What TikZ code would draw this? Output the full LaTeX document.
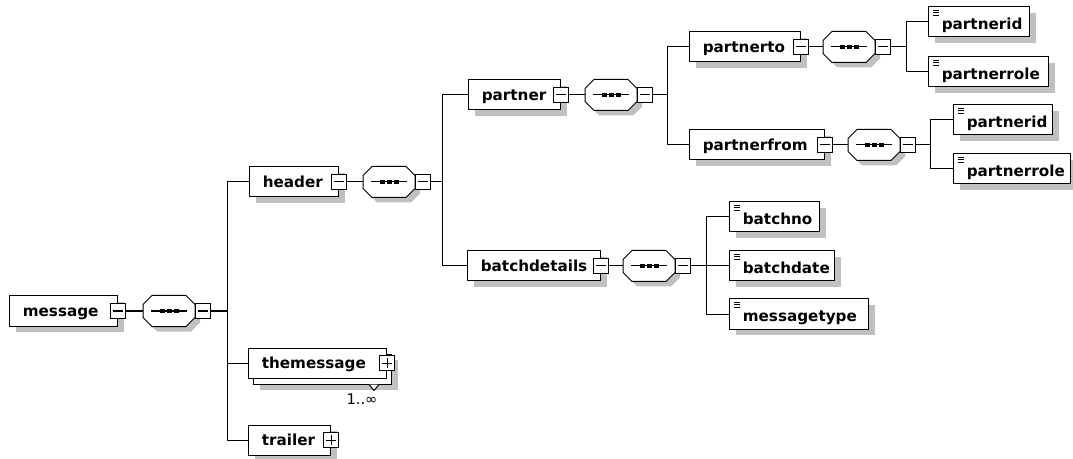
\documentclass[tikz,border=0pt]{standalone}
\usepackage{fontspec}
\setmainfont{DejaVu Sans}
\usetikzlibrary{shadows}

\definecolor{shadowgray}{RGB}{192,192,192}

\tikzset{
  conn/.style={line width=0.75pt},
  elembase/.style={draw, fill=white, rectangle, line width=0.75pt,
    inner xsep=0pt, inner ysep=0pt, minimum height=22.5pt, align=left,
    font=\bfseries\fontsize{11.4pt}{13pt}\selectfont,
    text height=10pt, text depth=2.2pt},
  elem/.style={elembase,
    drop shadow={shadow xshift=4.5pt, shadow yshift=-4.5pt, fill=shadowgray, opacity=1}},
  leaf/.style={elem, text height=11.5pt, text depth=0.9pt,
    path picture={
      \foreach \k in {2.25,4.1,6}{
        \draw[line width=0.6pt] ([xshift=3pt,yshift=-\k pt]path picture bounding box.north west) -- ++(5pt,0);
      }}},
  btn/.style={draw, fill=white, rectangle, line width=0.75pt,
    minimum size=11.25pt, inner sep=0pt},
  minusbtn/.style={btn,
    path picture={\draw[line width=0.75pt]
      ([xshift=2pt]path picture bounding box.west) -- ([xshift=-2pt]path picture bounding box.east);}},
  plusbtn/.style={btn,
    path picture={\draw[line width=0.75pt]
      ([xshift=2pt]path picture bounding box.west) -- ([xshift=-2pt]path picture bounding box.east)
      ([yshift=2pt]path picture bounding box.south) -- ([yshift=-2pt]path picture bounding box.north);}},
  seqarea/.style={rectangle, inner sep=0pt, minimum width=39pt, minimum height=23.25pt},
  occurs/.style={font=\fontsize{11pt}{13pt}\selectfont, inner sep=0pt}
}

% element box: name, style, left x, right x, centre y, label
\newcommand\elembox[6]{%
  \pgfmathsetlengthmacro\elw{(#4-#3)*0.75pt}%
  \node[#2, text width=\elw, anchor=west] (#1) at (#3,#5) {\hspace*{10pt}\mbox{#6}};%
}

% sequence compositor: name, centre x, centre y
\newcommand\seqgroup[3]{%
  \fill[shadowgray] (#2-12,#3-10.5) -- (#2+22,#3-10.5) -- (#2+31,#3-1.5) -- (#2+31,#3+11.5)
    -- (#2+22,#3+20.5) -- (#2-12,#3+20.5) -- (#2-21,#3+11.5) -- (#2-21,#3-1.5) -- cycle;
  \draw[conn, fill=white] (#2-17,#3-15.5) -- (#2+17,#3-15.5) -- (#2+26,#3-6.5) -- (#2+26,#3+6.5)
    -- (#2+17,#3+15.5) -- (#2-17,#3+15.5) -- (#2-26,#3+6.5) -- (#2-26,#3-6.5) -- cycle;
  \node[seqarea] (#1) at (#2,#3) {};
  \draw[conn] (#2-18,#3) -- (#2+18,#3);
  \foreach \dx in {-7,0,7}{\fill (#2+\dx-2.5,#3-2) rectangle (#2+\dx+2.5,#3+2);}
  \node[minusbtn, anchor=west] (#1-b) at (#1.east) {};
}

\begin{document}
\begin{tikzpicture}[x=0.75pt, y=-0.75pt]
\useasboundingbox (0,0) rectangle (1073,459);

% ---- root ----
\elembox{message}{elem}{9}{117}{311}{message}
\node[minusbtn] (message-b) at (message.east) {};
\seqgroup{s1}{169}{311}

% ---- children of message ----
\elembox{header}{elem}{249}{338}{182}{header}
\node[minusbtn] (header-b) at (header.east) {};

\elembox{themessage-back}{elem}{253}{391}{369}{}
\elembox{themessage}{elembase}{248}{386}{363}{themessage}
\node[plusbtn] (themessage-b) at (themessage.east) {};
\draw[conn, fill=white] ([xshift=-17.25pt]themessage-back.south east) -- ++(3.75pt,-4.5pt) -- ++(3.75pt,4.5pt);
\node[occurs] (themessage-occ) at (362,399) {1..∞};

\elembox{trailer}{elem}{248}{330}{440}{trailer}
\node[plusbtn] (trailer-b) at (trailer.east) {};

% ---- header content ----
\seqgroup{s2}{389}{182}
\elembox{partner}{elem}{468}{560}{95}{partner}
\node[minusbtn] (partner-b) at (partner.east) {};
\elembox{batchdetails}{elem}{467}{600}{266}{batchdetails}
\node[minusbtn] (batchdetails-b) at (batchdetails.east) {};

% ---- partner content ----
\seqgroup{s3}{611}{95}
\elembox{partnerto}{elem}{689}{800}{47}{partnerto}
\node[minusbtn] (partnerto-b) at (partnerto.east) {};
\elembox{partnerfrom}{elem}{689}{824}{145}{partnerfrom}
\node[minusbtn] (partnerfrom-b) at (partnerfrom.east) {};

% ---- partnerto content ----
\seqgroup{s4}{849}{47}
\elembox{to-id}{leaf}{928}{1029}{22}{partnerid}
\elembox{to-role}{leaf}{928}{1048}{72}{partnerrole}

% ---- partnerfrom content ----
\seqgroup{s5}{874}{145}
\elembox{from-id}{leaf}{953}{1052}{120}{partnerid}
\elembox{from-role}{leaf}{953}{1070}{169}{partnerrole}

% ---- batchdetails content ----
\seqgroup{s6}{649}{266}
\elembox{batchno}{leaf}{729}{819}{217}{batchno}
\elembox{batchdate}{leaf}{729}{834}{266}{batchdate}
\elembox{messagetype}{leaf}{729}{868}{314}{messagetype}

% ---- connectors ----
\coordinate (j1) at (227,311);
\coordinate (j2) at (442,182);
\coordinate (j3) at (667,95);
\coordinate (j4) at (906,47);
\coordinate (j5) at (930,145);
\coordinate (j6) at (706,266);

\draw[conn] (message-b.east) -- (s1.west);
\draw[conn] (s1-b.east) -- (j1);
\foreach \c in {header,themessage,trailer}{\draw[conn] (\c.west) -| (j1);}

\draw[conn] (header-b.east) -- (s2.west);
\draw[conn] (s2-b.east) -- (j2);
\foreach \c in {partner,batchdetails}{\draw[conn] (\c.west) -| (j2);}

\draw[conn] (partner-b.east) -- (s3.west);
\draw[conn] (s3-b.east) -- (j3);
\foreach \c in {partnerto,partnerfrom}{\draw[conn] (\c.west) -| (j3);}

\draw[conn] (partnerto-b.east) -- (s4.west);
\draw[conn] (s4-b.east) -- (j4);
\foreach \c in {to-id,to-role}{\draw[conn] (\c.west) -| (j4);}

\draw[conn] (partnerfrom-b.east) -- (s5.west);
\draw[conn] (s5-b.east) -- (j5);
\foreach \c in {from-id,from-role}{\draw[conn] (\c.west) -| (j5);}

\draw[conn] (batchdetails-b.east) -- (s6.west);
\draw[conn] (s6-b.east) -- (j6);
\foreach \c in {batchno,batchdate,messagetype}{\draw[conn] (\c.west) -| (j6);}
\end{tikzpicture}
\end{document}
